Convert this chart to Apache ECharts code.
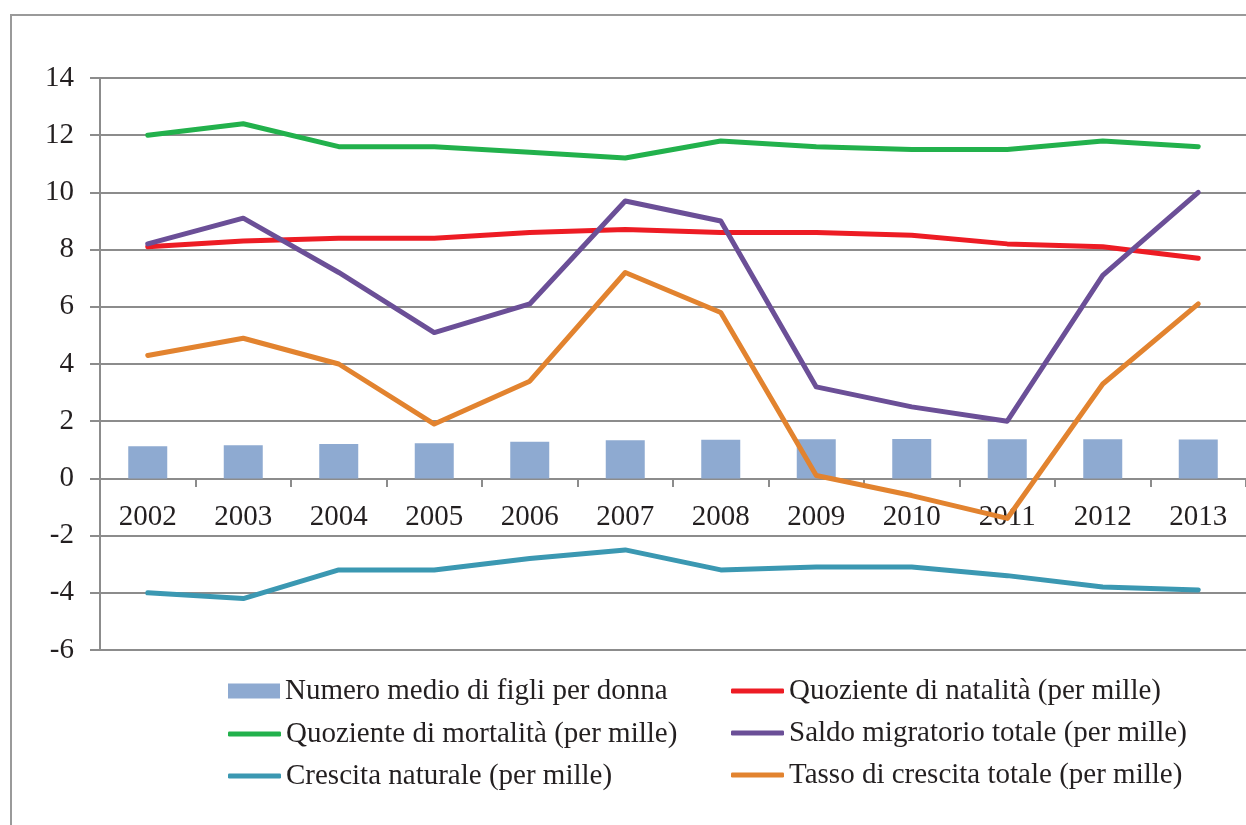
<!DOCTYPE html>
<html>
<head>
<meta charset="utf-8">
<script src="https://cdn.jsdelivr.net/npm/echarts@6/dist/echarts.min.js"></script>
<style>
html, body { margin: 0; padding: 0; background: #fff; }
#chart { width: 1246px; height: 825px; }
</style>
</head>
<body>
<div id="chart"></div>
<script>
// dati demografici 2002-2013
var anni = ['2002', '2003', '2004', '2005', '2006', '2007', '2008', '2009', '2010', '2011', '2012', '2013'];
var figliPerDonna = [1.12, 1.16, 1.2, 1.23, 1.28, 1.33, 1.35, 1.37, 1.38, 1.37, 1.37, 1.36];
var natalita = [8.1, 8.3, 8.4, 8.4, 8.6, 8.7, 8.6, 8.6, 8.5, 8.2, 8.1, 7.7];
var mortalita = [12.0, 12.4, 11.6, 11.6, 11.4, 11.2, 11.8, 11.6, 11.5, 11.5, 11.8, 11.6];
var saldoMigratorio = [8.2, 9.1, 7.2, 5.1, 6.1, 9.7, 9.0, 3.2, 2.5, 2.0, 7.1, 10.0];
var crescitaNaturale = [-4.0, -4.2, -3.2, -3.2, -2.8, -2.5, -3.2, -3.1, -3.1, -3.4, -3.8, -3.9];
var crescitaTotale = [4.3, 4.9, 4.0, 1.9, 3.4, 7.2, 5.8, 0.1, -0.6, -1.4, 3.3, 6.1];

var nomi = {
    figli: 'Numero medio di figli per donna',
    nat: 'Quoziente di natalità (per mille)',
    mort: 'Quoziente di mortalità (per mille)',
    saldo: 'Saldo migratorio totale (per mille)',
    cresc: 'Crescita naturale (per mille)',
    tasso: 'Tasso di crescita totale (per mille)'
};

var font = "'Liberation Serif', 'Times New Roman', serif";
var grigio = '#8c8c8c';
var testo = { fontFamily: font, fontSize: 29, color: '#231f20', lineHeight: 30 };

function linea(nome, dati, colore) {
    return {
        name: nome,
        type: 'line',
        data: dati,
        symbol: 'none',
        z: 3,
        itemStyle: { color: colore },
        lineStyle: { color: colore, width: 5, cap: 'round', join: 'round' }
    };
}

var chart = echarts.init(document.getElementById('chart'));
chart.setOption({
    animation: false,
    graphic: [{
        type: 'rect',
        shape: { x: 11, y: 15, width: 1400, height: 1000 },
        style: { fill: 'none', stroke: '#9a9a9a', lineWidth: 2 },
        silent: true
    }],
    grid: { left: 100, right: -12, top: 78, bottom: 175 },
    legend: [{
        data: [nomi.figli],
        left: 228, top: 676, padding: 0,
        itemWidth: 52, itemHeight: 15, icon: 'rect',
        textStyle: testo
    }, {
        data: [nomi.mort, nomi.cresc],
        orient: 'vertical',
        left: 228, top: 719, padding: 0, itemGap: 12,
        itemWidth: 53, itemHeight: 5, icon: 'roundRect',
        textStyle: testo
    }, {
        data: [nomi.nat, nomi.saldo, nomi.tasso],
        orient: 'vertical',
        left: 731, top: 676, padding: 0, itemGap: 12,
        itemWidth: 53, itemHeight: 5, icon: 'roundRect',
        textStyle: testo
    }],
    xAxis: {
        type: 'category',
        data: anni,
        // asse spostato sulla linea dello zero (-6..14 => 6/20 dell'altezza)
        offset: -171,
        axisLine: { onZero: false, lineStyle: { color: grigio, width: 2 } },
        axisTick: { show: true, length: 8, lineStyle: { color: grigio, width: 2 } },
        axisLabel: { fontFamily: font, fontSize: 29, color: '#231f20', margin: 24 }
    },
    yAxis: {
        type: 'value',
        min: -6, max: 14, interval: 2,
        axisLine: { show: true, lineStyle: { color: grigio, width: 2 } },
        axisTick: { show: true, length: 10, lineStyle: { color: grigio, width: 2 } },
        splitLine: { lineStyle: { color: grigio, width: 2 } },
        axisLabel: { fontFamily: font, fontSize: 29, color: '#231f20', margin: 26 }
    },
    series: [{
        name: nomi.figli,
        type: 'bar',
        data: figliPerDonna,
        barWidth: 39,
        z: 2,
        itemStyle: { color: '#8eaad1' }
    },
        linea(nomi.nat, natalita, '#ed1c24'),
        linea(nomi.mort, mortalita, '#22b14c'),
        linea(nomi.saldo, saldoMigratorio, '#6b4f97'),
        linea(nomi.cresc, crescitaNaturale, '#3b98b2'),
        linea(nomi.tasso, crescitaTotale, '#e2832f')
    ]
});
</script>
</body>
</html>
